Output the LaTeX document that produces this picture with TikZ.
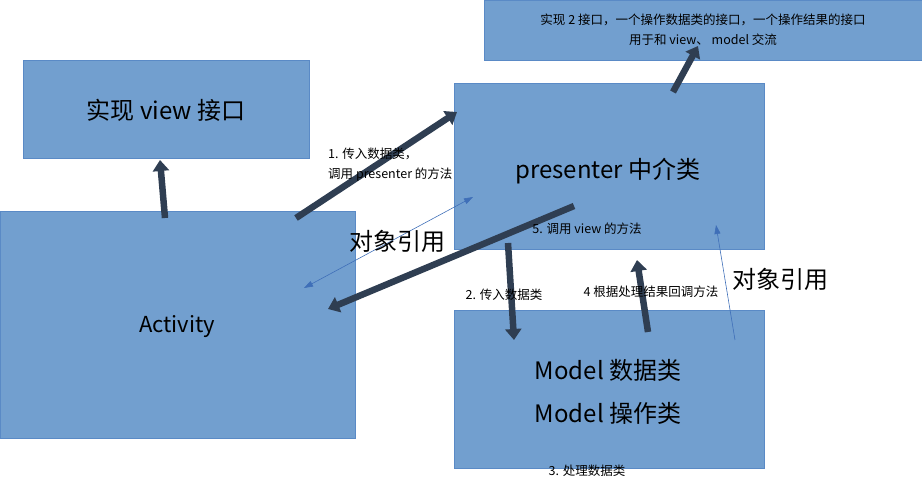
\documentclass[tikz,border=0pt]{standalone}
\usepackage{fontspec}
\setmainfont{Noto Sans CJK SC}
\usetikzlibrary{arrows.meta}
\definecolor{boxfill}{HTML}{729FCF}
\definecolor{boxline}{HTML}{5A8AC6}
\definecolor{darkarr}{HTML}{2F3E52}
\definecolor{thinarr}{HTML}{3F6FB8}
\tikzset{
  box/.style={draw=boxline,line width=1pt,fill=boxfill,inner sep=0pt},
  big/.style={font=\fontsize{24}{28}\selectfont},
  mid/.style={font=\fontsize{22}{28}\selectfont},
  small/.style={font=\fontsize{12.5}{20}\selectfont,inner sep=0pt},
  thick arrow/.style={draw=darkarr,line width=6.5pt,-{Triangle[length=11pt,width=16pt]}},
  thin arrow/.style={draw=thinarr,line width=0.6pt,-{Triangle[length=9pt,width=6pt]}},
}
\begin{document}
\begin{tikzpicture}[x=1pt,y=-1pt]
\useasboundingbox (0,0) rectangle (922,486);
\node[box,minimum width=286pt,minimum height=98pt,anchor=north west] (view) at (23,60) {};
\node[box,minimum width=355pt,minimum height=227pt,anchor=north west] (act) at (0,211) {};
\node[box,minimum width=310pt,minimum height=166pt,anchor=north west] (pres) at (454,83) {};
\node[box,minimum width=438pt,minimum height=60pt,anchor=north west] (top) at (484,0) {};
\node[box,minimum width=310pt,minimum height=158pt,anchor=north west] (model) at (454,310) {};

\node[big] (tview) at (166,110) {实现 view 接口};
\node[mid] (tact) at (177,327) {Activity};
\node[big] (tpres) at (608,171) {presenter 中介类};
\node[big] (tm1) at (608,370) {Model 数据类};
\node[big] (tm2) at (608,413) {Model 操作类};
\node[small,align=center] (ttop) at (703,30) {实现 2 接口，一个操作数据类的接口，一个操作结果的接口\\用于和 view、 model 交流};

\coordinate (a1) at (165,218); \coordinate (a1e) at (160,160);
\coordinate (a2) at (296,218); \coordinate (a2e) at (457,112);
\coordinate (a3) at (574,206); \coordinate (a3e) at (328,309);
\coordinate (a4) at (508,243); \coordinate (a4e) at (514,340);
\coordinate (a5) at (648,332); \coordinate (a5e) at (637,260);
\coordinate (a6) at (673,92);  \coordinate (a6e) at (698,46);
\draw[thick arrow] (a1) -- (a1e);
\draw[thick arrow] (a2) -- (a2e);
\draw[thick arrow] (a3) -- (a3e);
\draw[thick arrow] (a4) -- (a4e);
\draw[thick arrow] (a5) -- (a5e);
\draw[thick arrow] (a6) -- (a6e);
\coordinate (b1) at (473,197); \coordinate (b2) at (304,288);
\draw[thin arrow,{Triangle[length=9pt,width=6pt]}-{Triangle[length=9pt,width=6pt]}] (b1) -- (b2);
\coordinate (c1) at (735,340); \coordinate (c2) at (716,225);
\draw[thin arrow] (c1) -- (c2);

\node[small,align=left,anchor=west] (l1) at (328,165) {1. 传入数据类，\\调用 presenter 的方法};
\node[big] (obj1) at (397,241) {对象引用};
\node[big] (obj2) at (780,279) {对象引用};
\node[small] (l5) at (587,229) {5. 调用 view 的方法};
\node[small] (l2) at (504,295) {2. 传入数据类};
\node[small] (l4) at (651,292) {4 根据处理结果回调方法};
\node[small] (l3) at (587,471) {3. 处理数据类};
\end{tikzpicture}
\end{document}
